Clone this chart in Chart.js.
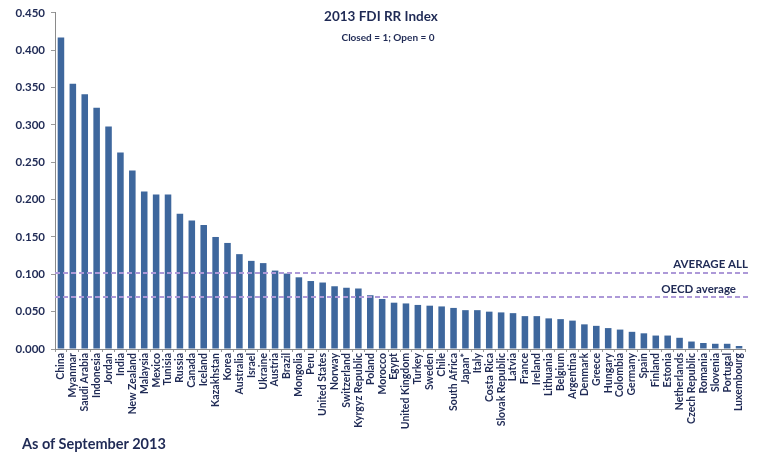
<!DOCTYPE html>
<html>
<head>
<meta charset="utf-8">
<script src="https://cdn.jsdelivr.net/npm/chart.js@4.4.1/dist/chart.umd.min.js"></script>
<style>
  html, body { margin: 0; padding: 0; background: #fff; }
  #wrap { position: relative; width: 760px; height: 454px; }
  #note { position: absolute; left: 22px; top: 435px; font: bold 14.5px Lato, sans-serif; color: #1f2a55; }
</style>
</head>
<body>
<div id="wrap">
  <canvas id="chart" width="760" height="454"></canvas>
  <div id="note">As of September 2013</div>
</div>
<script>
// countries, most restrictive first
const countries = [
    "China", "Myanmar", "Saudi Arabia", "Indonesia", "Jordan", "India", "New Zealand", "Malaysia",
    "Mexico", "Tunisia", "Russia", "Canada", "Iceland", "Kazakhstan", "Korea", "Australia",
    "Israel", "Ukraine", "Austria", "Brazil", "Mongolia", "Peru", "United States", "Norway",
    "Switzerland", "Kyrgyz Republic", "Poland", "Morocco", "Egypt", "United Kingdom", "Turkey", "Sweden",
    "Chile", "South Africa", "Japan*", "Italy", "Costa Rica", "Slovak Republic", "Latvia", "France",
    "Ireland", "Lithuania", "Belgium", "Argentina", "Denmark", "Greece", "Hungary", "Colombia",
    "Germany", "Spain", "Finland", "Estonia", "Netherlands", "Czech Republic", "Romania", "Slovenia",
    "Portugal", "Luxembourg"
];

// FDI RR index values
const indexValues = [
    0.417, 0.355, 0.341, 0.323, 0.298, 0.263, 0.239, 0.211,
    0.207, 0.207, 0.181, 0.172, 0.166, 0.150, 0.142, 0.127,
    0.118, 0.115, 0.105, 0.101, 0.096, 0.091, 0.089, 0.084,
    0.082, 0.081, 0.072, 0.067, 0.062, 0.061, 0.059, 0.058,
    0.057, 0.055, 0.052, 0.052, 0.050, 0.049, 0.048, 0.044,
    0.044, 0.041, 0.040, 0.038, 0.033, 0.031, 0.028, 0.026,
    0.023, 0.021, 0.018, 0.018, 0.015, 0.010, 0.008, 0.007,
    0.007, 0.004
];

const averageAll = 0.102;
const oecdAverage = 0.069;

const navy = "#1f2a55";

// dashed average lines + titles
const overlay = {
    id: "overlay",
    afterDraw(chart) {
        const ctx = chart.ctx;
        const y = chart.scales.y;
        const area = chart.chartArea;
        ctx.save();
        ctx.strokeStyle = "#ad99d8";
        ctx.lineWidth = 2;
        ctx.setLineDash([5, 3]);
        [averageAll, oecdAverage].forEach(v => {
            const py = Math.round(y.getPixelForValue(v));
            ctx.beginPath();
            ctx.moveTo(area.left, py);
            ctx.lineTo(area.right + 4, py);
            ctx.stroke();
        });
        ctx.setLineDash([]);
        ctx.fillStyle = navy;
        ctx.textBaseline = "middle";
        ctx.textAlign = "right";
        ctx.font = "bold 11.5px Lato, sans-serif";
        ctx.fillText("AVERAGE ALL", area.right + 3, y.getPixelForValue(averageAll) - 9);
        ctx.fillText("OECD average", area.right - 9, y.getPixelForValue(oecdAverage) - 8);
        ctx.textAlign = "center";
        ctx.font = "bold 13.5px Lato, sans-serif";
        ctx.fillText("2013 FDI RR Index", 381, 17);
        ctx.font = "bold 10px Lato, sans-serif";
        ctx.fillText("Closed = 1; Open = 0", 388, 38);
        ctx.restore();
    }
};

new Chart(document.getElementById("chart"), {
    type: "bar",
    data: {
        labels: countries,
        datasets: [{
            label: "FDI RR Index",
            data: indexValues,
            backgroundColor: "#3e679d",
            barPercentage: 0.55,
            categoryPercentage: 1.0
        }]
    },
    options: {
        responsive: false,
        animation: false,
        layout: { padding: { top: 8, right: 15, left: 0, bottom: 0 } },
        plugins: {
            legend: { display: false },
            tooltip: { enabled: false }
        },
        scales: {
            x: {
                grid: { drawOnChartArea: false, tickLength: 3, color: "#9a9a9a" },
                border: { color: "#8a8a8a" },
                ticks: {
                    autoSkip: false,
                    maxRotation: 90,
                    minRotation: 90,
                    padding: 1,
                    color: navy,
                    font: { family: "Lato", size: 10.5, weight: "bold" }
                },
                afterFit(scale) { scale.height = 105; }
            },
            y: {
                min: 0,
                max: 0.45,
                grid: { drawOnChartArea: false, tickLength: 4, color: "#9a9a9a" },
                border: { color: "#8a8a8a" },
                ticks: {
                    stepSize: 0.05,
                    padding: 6,
                    color: navy,
                    font: { family: "Lato", size: 11.5, weight: "bold" },
                    callback: v => v.toFixed(3)
                },
                afterFit(scale) { scale.width = 55; }
            }
        }
    },
    plugins: [overlay]
});
</script>
</body>
</html>
